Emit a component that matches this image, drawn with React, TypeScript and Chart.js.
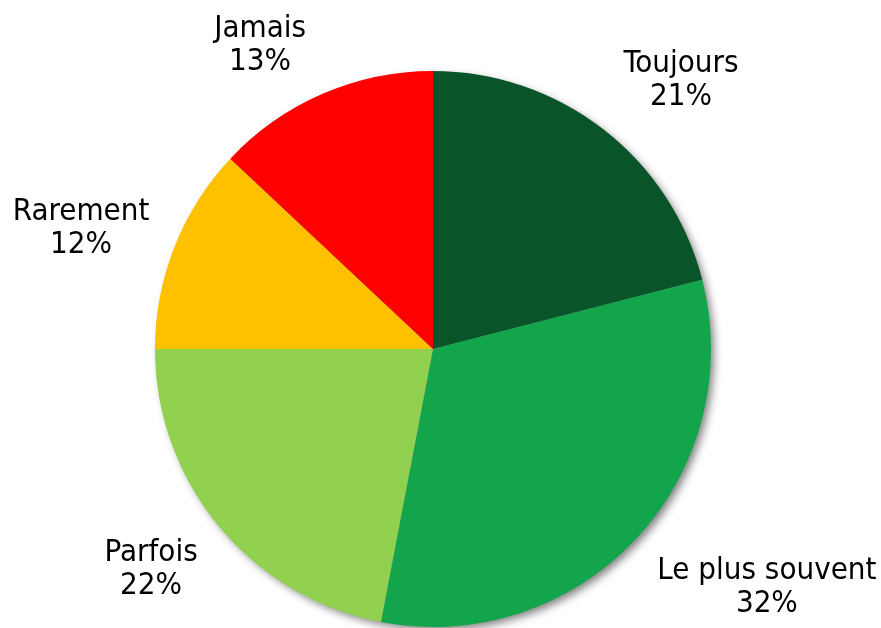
import React, { useEffect, useRef } from "react";
import { Chart, registerables } from "chart.js";

Chart.register(...registerables);

const categories = ["Toujours", "Le plus souvent", "Parfois", "Rarement", "Jamais"];
const values = [21, 32, 22, 12, 13];
const valueLabels = ["21%", "32%", "22%", "12%", "13%"];
const colors = ["#0a5429", "#12a54b", "#92d050", "#ffc000", "#ff0000"];
// label centre offsets, in units of the pie radius
const labelOffsetX = [0.892, 1.201, -1.014, -1.266, -0.622];
const labelOffsetY = [-0.975, 0.847, 0.784, -0.442, -1.101];

const FONT = '31px "DejaVu Sans Condensed", "DejaVu Sans", sans-serif';

const shadowPlugin = {
  id: "pieShadow",
  beforeDatasetsDraw(chart: any) {
    const arc = chart.getDatasetMeta(0).data[0];
    if (!arc) return;
    const { x, y, outerRadius } = arc.getProps(["x", "y", "outerRadius"], true);
    const ctx = chart.ctx;
    ctx.save();
    ctx.shadowColor = "rgba(0,0,0,0.5)";
    ctx.shadowBlur = 8;
    ctx.shadowOffsetX = 4;
    ctx.shadowOffsetY = 4;
    ctx.beginPath();
    ctx.arc(x, y, outerRadius - 1, 0, Math.PI * 2);
    ctx.fillStyle = "#888";
    ctx.fill();
    ctx.restore();
  },
};

const labelPlugin = {
  id: "outerLabels",
  afterDatasetsDraw(chart: any) {
    const meta = chart.getDatasetMeta(0);
    const ctx = chart.ctx;
    ctx.save();
    ctx.font = FONT;
    ctx.fillStyle = "#000";
    ctx.textAlign = "center";
    ctx.textBaseline = "middle";
    meta.data.forEach((arc: any, i: number) => {
      const { x, y, outerRadius } = arc.getProps(["x", "y", "outerRadius"], true);
      const cx = x + labelOffsetX[i] * outerRadius;
      const cy = y + labelOffsetY[i] * outerRadius;
      ctx.fillText(categories[i], cx, cy - 14);
      ctx.fillText(valueLabels[i], cx, cy + 19);
    });
    ctx.restore();
  },
};

export default function App() {
  const ref = useRef<HTMLCanvasElement>(null);
  useEffect(() => {
    document.body.style.margin = "0";
    const chart = new Chart(ref.current!, {
      type: "pie",
      data: {
        labels: categories,
        datasets: [
          {
            data: values,
            backgroundColor: colors,
            borderWidth: 0,
          },
        ],
      },
      options: {
        animation: false,
        responsive: false,
        maintainAspectRatio: false,
        layout: { padding: { left: 155, right: 170, top: 71, bottom: 1 } },
        plugins: {
          legend: { display: false },
          tooltip: { enabled: false },
        },
      },
      plugins: [shadowPlugin, labelPlugin],
    });
    return () => chart.destroy();
  }, []);
  return (
    <div style={{ width: 881, height: 628, background: "#fff" }}>
      <canvas ref={ref} width={881} height={628} style={{ display: "block" }} />
    </div>
  );
}
